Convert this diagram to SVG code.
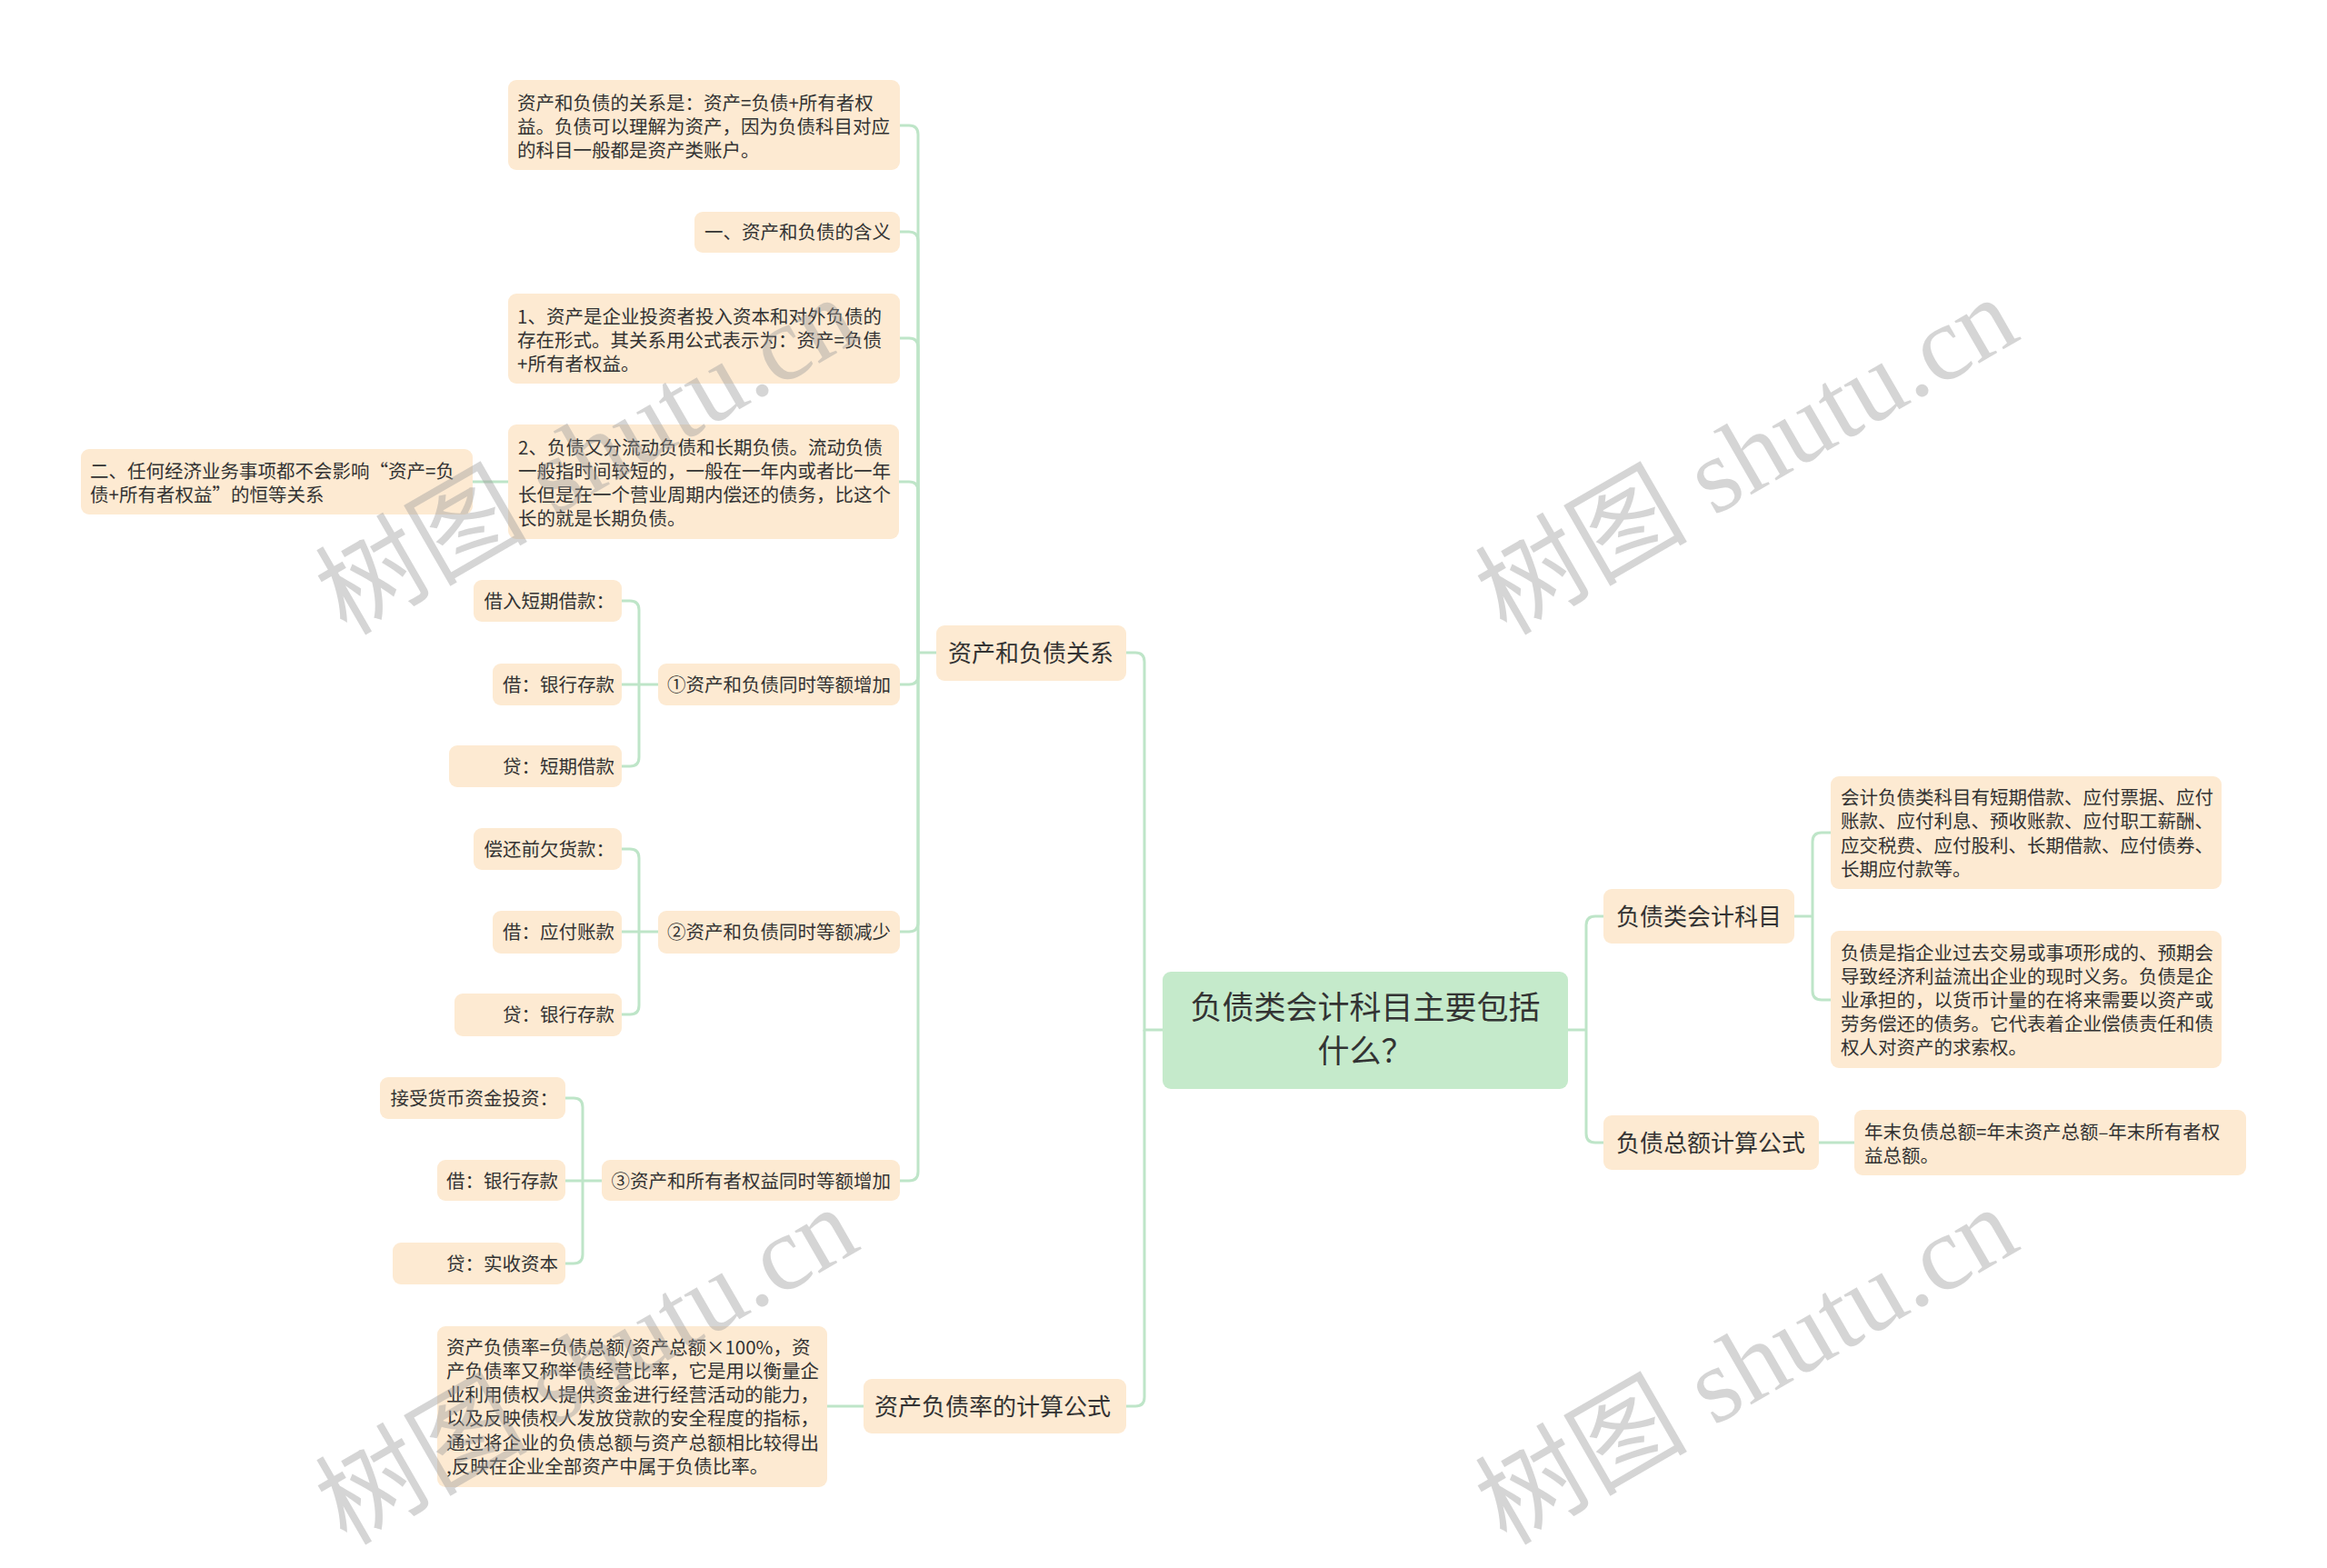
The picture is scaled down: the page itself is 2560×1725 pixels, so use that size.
<svg xmlns="http://www.w3.org/2000/svg" width="2560" height="1725" viewBox="0 0 2560 1725">
<style>
.n{fill:#FDEAD2}
.c{fill:#C5EACB}
.e{fill:none;stroke:#BEE5C8;stroke-width:3}
text{font-family:"Noto Sans CJK SC","Noto Sans",sans-serif;fill:#333}
.t{font-size:20.5px}
.m{font-size:26px}
.b{font-size:35px}
.r{text-anchor:end}
.mid{text-anchor:middle}
.wm{font-family:"Liberation Serif","Noto Sans CJK SC",serif;font-size:117px;fill:#9a9a9a;fill-opacity:0.42}
</style>
<rect width="2560" height="1725" fill="#ffffff"/>
<g id="connectors">
<path class="e" d="M1279,1133 H1259 V728 Q1259,718 1249,718 H1239"/>
<path class="e" d="M1259,1133 V1537 Q1259,1547 1249,1547 H1239"/>
<path class="e" d="M1030,718 H1010"/>
<path class="e" d="M1010,718 V148 Q1010,138 1000,138 H990"/>
<path class="e" d="M1010,718 V265 Q1010,255 1000,255 H990"/>
<path class="e" d="M1010,718 V382 Q1010,372 1000,372 H990"/>
<path class="e" d="M1010,718 V540 Q1010,530 1000,530 H989"/>
<path class="e" d="M1010,718 V743 Q1010,753 1000,753 H990"/>
<path class="e" d="M1010,718 V1015 Q1010,1025 1000,1025 H990"/>
<path class="e" d="M1010,718 V1289 Q1010,1299 1000,1299 H990"/>
<path class="e" d="M559,530 H520"/>
<path class="e" d="M724,753 H684"/>
<path class="e" d="M703,753 V671 Q703,661 693,661 H684"/>
<path class="e" d="M703,753 V833 Q703,843 693,843 H684"/>
<path class="e" d="M724,1025 H684"/>
<path class="e" d="M703,1025 V944 Q703,934 693,934 H684"/>
<path class="e" d="M703,1025 V1106 Q703,1116 693,1116 H684"/>
<path class="e" d="M662,1299 H622"/>
<path class="e" d="M641,1299 V1218 Q641,1208 631,1208 H622"/>
<path class="e" d="M641,1299 V1380 Q641,1390 631,1390 H622"/>
<path class="e" d="M950,1547 H910"/>
<path class="e" d="M1725,1133 H1745"/>
<path class="e" d="M1745,1133 V1018 Q1745,1008 1755,1008 H1764"/>
<path class="e" d="M1745,1133 V1247 Q1745,1257 1755,1257 H1764"/>
<path class="e" d="M1974,1008 H1994"/>
<path class="e" d="M1994,1008 V926 Q1994,916 2004,916 H2014"/>
<path class="e" d="M1994,1008 V1090 Q1994,1100 2004,1100 H2014"/>
<path class="e" d="M2001,1257 H2040"/>
</g>
<g id="root">
<rect class="c" x="1279" y="1069" width="446" height="129" rx="9"/>
<text class="b mid" x="1502" y="1121">负债类会计科目主要包括</text>
<text class="b mid" x="1502" y="1169">什么？</text>
</g>
<g id="n-zcfzgx">
<rect class="n" x="1030" y="688" width="209" height="61" rx="9"/>
<text class="m" x="1043" y="727.5">资产和负债关系</text>
</g>
<g id="n-jsgs">
<rect class="n" x="950" y="1517" width="289" height="60" rx="9"/>
<text class="m" x="962" y="1556.5">资产负债率的计算公式</text>
</g>
<g id="n-gx">
<rect class="n" x="559" y="88" width="431" height="99" rx="9"/>
<text class="t" x="569" y="120.5">资产和负债的关系是：资产=负债+所有者权</text>
<text class="t" x="569" y="146.5">益。负债可以理解为资产，因为负债科目对应</text>
<text class="t" x="569" y="172.5">的科目一般都是资产类账户。</text>
</g>
<g id="n-hy">
<rect class="n" x="764" y="233" width="226" height="45" rx="9"/>
<text class="t r" x="980" y="262.5">一、资产和负债的含义</text>
</g>
<g id="n-zc1">
<rect class="n" x="559" y="323" width="431" height="99" rx="9"/>
<text class="t" x="569" y="355.5">1、资产是企业投资者投入资本和对外负债的</text>
<text class="t" x="569" y="381.5">存在形式。其关系用公式表示为：资产=负债</text>
<text class="t" x="569" y="407.5">+所有者权益。</text>
</g>
<g id="n-fz2">
<rect class="n" x="559" y="467" width="430" height="126" rx="9"/>
<text class="t" x="570" y="499.5">2、负债又分流动负债和长期负债。流动负债</text>
<text class="t" x="570" y="525.5">一般指时间较短的，一般在一年内或者比一年</text>
<text class="t" x="570" y="551.5">长但是在一个营业周期内偿还的债务，比这个</text>
<text class="t" x="570" y="577.5">长的就是长期负债。</text>
</g>
<g id="n-er">
<rect class="n" x="89" y="494" width="431" height="72" rx="9"/>
<text class="t" x="99" y="525.5">二、任何经济业务事项都不会影响“资产=负</text>
<text class="t" x="99" y="551.5">债+所有者权益”的恒等关系</text>
</g>
<g id="n-q1">
<rect class="n" x="724" y="730" width="266" height="46" rx="9"/>
<text class="t r" x="980" y="760.5">①资产和负债同时等额增加</text>
</g>
<g id="n-q1a">
<rect class="n" x="521" y="638" width="163" height="46" rx="9"/>
<text class="t r" x="676" y="668.5">借入短期借款：</text>
</g>
<g id="n-q1b">
<rect class="n" x="542" y="730" width="142" height="46" rx="9"/>
<text class="t r" x="676" y="760.5">借：银行存款</text>
</g>
<g id="n-q1c">
<rect class="n" x="494" y="820" width="190" height="46" rx="9"/>
<text class="t r" x="676" y="850.5">贷：短期借款</text>
</g>
<g id="n-q2">
<rect class="n" x="724" y="1002" width="266" height="47" rx="9"/>
<text class="t r" x="980" y="1032.5">②资产和负债同时等额减少</text>
</g>
<g id="n-q2a">
<rect class="n" x="521" y="911" width="163" height="46" rx="9"/>
<text class="t r" x="676" y="941.5">偿还前欠货款：</text>
</g>
<g id="n-q2b">
<rect class="n" x="542" y="1002" width="142" height="47" rx="9"/>
<text class="t r" x="676" y="1032.5">借：应付账款</text>
</g>
<g id="n-q2c">
<rect class="n" x="500" y="1093" width="184" height="47" rx="9"/>
<text class="t r" x="676" y="1123.5">贷：银行存款</text>
</g>
<g id="n-q3">
<rect class="n" x="662" y="1276" width="328" height="45" rx="9"/>
<text class="t r" x="980" y="1306.5">③资产和所有者权益同时等额增加</text>
</g>
<g id="n-q3a">
<rect class="n" x="418" y="1185" width="204" height="46" rx="9"/>
<text class="t r" x="614" y="1215.5">接受货币资金投资：</text>
</g>
<g id="n-q3b">
<rect class="n" x="481" y="1276" width="141" height="45" rx="9"/>
<text class="t r" x="614" y="1306.5">借：银行存款</text>
</g>
<g id="n-q3c">
<rect class="n" x="432" y="1367" width="190" height="46" rx="9"/>
<text class="t r" x="614" y="1397.5">贷：实收资本</text>
</g>
<g id="n-fzl">
<rect class="n" x="481" y="1459" width="429" height="177" rx="9"/>
<text class="t" x="491" y="1489.5">资产负债率=负债总额/资产总额×100%，资</text>
<text class="t" x="491" y="1515.8">产负债率又称举债经营比率，它是用以衡量企</text>
<text class="t" x="491" y="1542.1">业利用债权人提供资金进行经营活动的能力，</text>
<text class="t" x="491" y="1568.4">以及反映债权人发放贷款的安全程度的指标，</text>
<text class="t" x="491" y="1594.7">通过将企业的负债总额与资产总额相比较得出</text>
<text class="t" x="491" y="1621">,反映在企业全部资产中属于负债比率。</text>
</g>
<g id="n-kjkm">
<rect class="n" x="1764" y="978" width="210" height="60" rx="9"/>
<text class="m" x="1778" y="1017.5">负债类会计科目</text>
</g>
<g id="n-zegs">
<rect class="n" x="1764" y="1227" width="237" height="60" rx="9"/>
<text class="m" x="1778" y="1266.5">负债总额计算公式</text>
</g>
<g id="n-km1">
<rect class="n" x="2014" y="854" width="430" height="124" rx="9"/>
<text class="t" x="2025" y="885">会计负债类科目有短期借款、应付票据、应付</text>
<text class="t" x="2025" y="911.3">账款、应付利息、预收账款、应付职工薪酬、</text>
<text class="t" x="2025" y="937.6">应交税费、应付股利、长期借款、应付债券、</text>
<text class="t" x="2025" y="963.9">长期应付款等。</text>
</g>
<g id="n-km2">
<rect class="n" x="2014" y="1024" width="430" height="151" rx="9"/>
<text class="t" x="2025" y="1055.5">负债是指企业过去交易或事项形成的、预期会</text>
<text class="t" x="2025" y="1081.5">导致经济利益流出企业的现时义务。负债是企</text>
<text class="t" x="2025" y="1107.5">业承担的，以货币计量的在将来需要以资产或</text>
<text class="t" x="2025" y="1133.5">劳务偿还的债务。它代表着企业偿债责任和债</text>
<text class="t" x="2025" y="1159.5">权人对资产的求索权。</text>
</g>
<g id="n-ze1">
<rect class="n" x="2040" y="1221" width="431" height="72" rx="9"/>
<text class="t" x="2051" y="1252.5">年末负债总额=年末资产总额–年末所有者权</text>
<text class="t" x="2051" y="1278.5">益总额。</text>
</g>
<g id="watermarks">
<text class="wm" transform="translate(381,700) rotate(-30)">树图 shutu.cn</text>
<text class="wm" transform="translate(1657,700) rotate(-30)">树图 shutu.cn</text>
<text class="wm" transform="translate(381,1701) rotate(-30)">树图 shutu.cn</text>
<text class="wm" transform="translate(1657,1701) rotate(-30)">树图 shutu.cn</text>
</g>
</svg>
